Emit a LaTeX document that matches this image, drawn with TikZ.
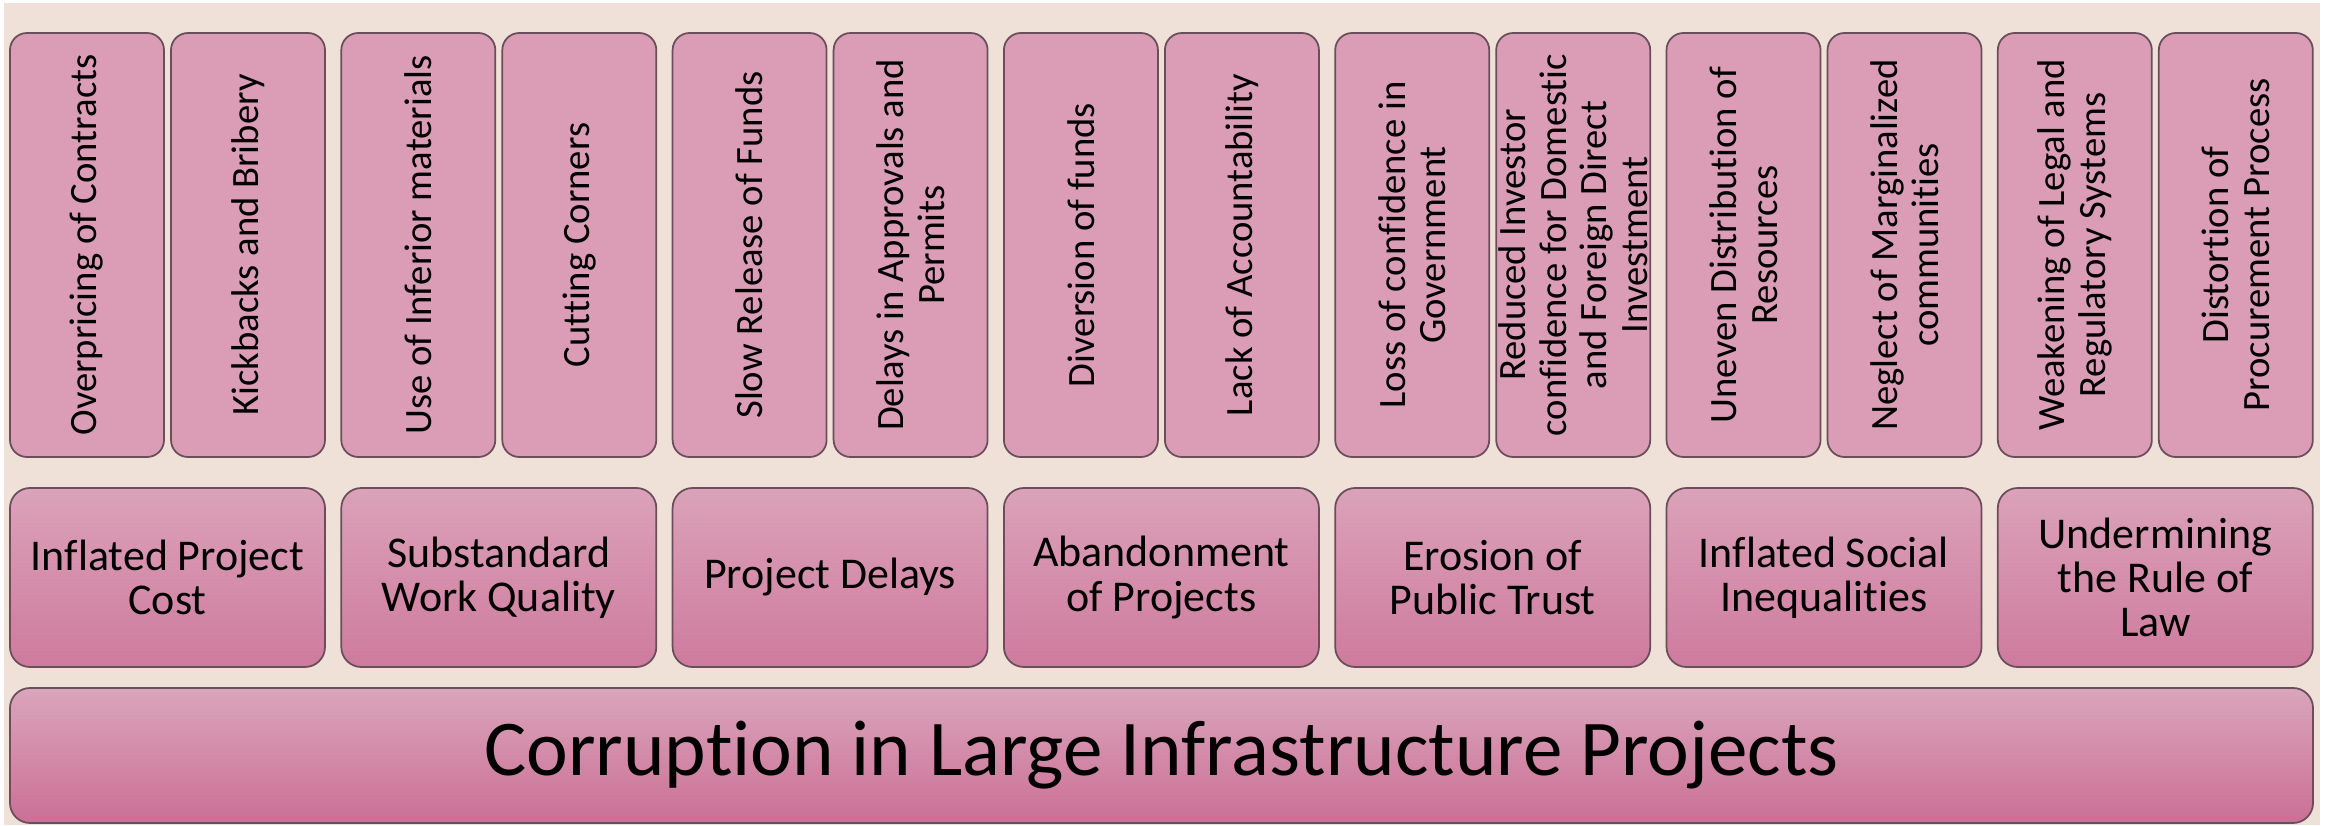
\documentclass[tikz,border=0pt]{standalone}
\usepackage{fontspec}
\setmainfont{Carlito}[Ligatures=NoCommon]
\usetikzlibrary{positioning}

\definecolor{pagebg}{HTML}{EFE1D7}
\definecolor{boxline}{HTML}{6A4E5A}
\definecolor{causefill}{HTML}{DA9DB5}
\definecolor{effecttop}{HTML}{DBA2B9}
\definecolor{effectbot}{HTML}{CE7B9D}
\definecolor{coretop}{HTML}{DAA5BB}
\definecolor{corebot}{HTML}{CB6F95}

\begin{document}
\begin{tikzpicture}[
  cause/.style = {draw=boxline, line width=0.5pt, rounded corners=0.17cm, fill=causefill,
    rotate=90, minimum width=4.24cm, minimum height=1.54cm, inner sep=0pt,
    align=center, font=\fontsize{11}{11.6}\selectfont},
  effect/.style = {draw=boxline, line width=0.5pt, rounded corners=0.2cm,
    top color=effecttop, bottom color=effectbot,
    minimum width=3.15cm, minimum height=1.79cm, inner sep=0pt,
    align=center, font=\fontsize{12.5}{12.6}\selectfont},
  core/.style = {draw=boxline, line width=0.5pt, rounded corners=0.2cm,
    top color=coretop, bottom color=corebot,
    minimum width=23.03cm, minimum height=1.35cm, inner sep=0pt,
    font=\fontsize{22.5}{26}\selectfont}
]
  \useasboundingbox (0,0) rectangle (23.25,8.25);
  \fill[white] (0,0) rectangle (23.25,8.25);
  \fill[pagebg] (0.04,0) rectangle (23.20,8.22);

  % top row: causes
  \node[cause] (c1) at (0.87,5.80) {Overpricing of Contracts};
  \node[cause] (c2) at (2.48,5.80) {Kickbacks and Bribery};
  \node[cause] (c3) at (4.183,5.80) {Use of Inferior materials};
  \node[cause] (c4) at (5.793,5.80) {Cutting Corners};
  \node[cause] (c5) at (7.496,5.80) {Slow Release of Funds};
  \node[cause] (c6) at (9.106,5.80) {Delays in Approvals and\\Permits};
  \node[cause] (c7) at (10.809,5.80) {Diversion of funds};
  \node[cause] (c8) at (12.419,5.80) {Lack of Accountability};
  \node[cause] (c9) at (14.122,5.80) {Loss of confidence in\\Government};
  \node[cause] (c10) at (15.732,5.80) {Reduced Investor\\confidence for Domestic\\and Foreign Direct\\Investment};
  \node[cause] (c11) at (17.435,5.80) {Uneven Distribution of\\Resources};
  \node[cause] (c12) at (19.045,5.80) {Neglect of Marginalized\\communities};
  \node[cause] (c13) at (20.748,5.80) {Weakening of Legal and\\Regulatory Systems};
  \node[cause] (c14) at (22.358,5.80) {Distortion of\\Procurement Process};

  % middle row: effects
  \node[effect] (e1) at (1.675,2.475) {Inflated Project\\Cost};
  \node[effect] (e2) at (4.988,2.475) {Substandard\\Work Quality};
  \node[effect] (e3) at (8.301,2.475) {Project Delays};
  \node[effect] (e4) at (11.614,2.475) {Abandonment\\of Projects};
  \node[effect] (e5) at (14.927,2.475) {Erosion of\\Public Trust};
  \node[effect] (e6) at (18.240,2.475) {Inflated Social\\Inequalities};
  \node[effect] (e7) at (21.553,2.475) {Undermining\\the Rule of\\Law};

  % base
  \node[core] (core) at (11.615,0.695) {Corruption in Large Infrastructure Projects};
\end{tikzpicture}
\end{document}
